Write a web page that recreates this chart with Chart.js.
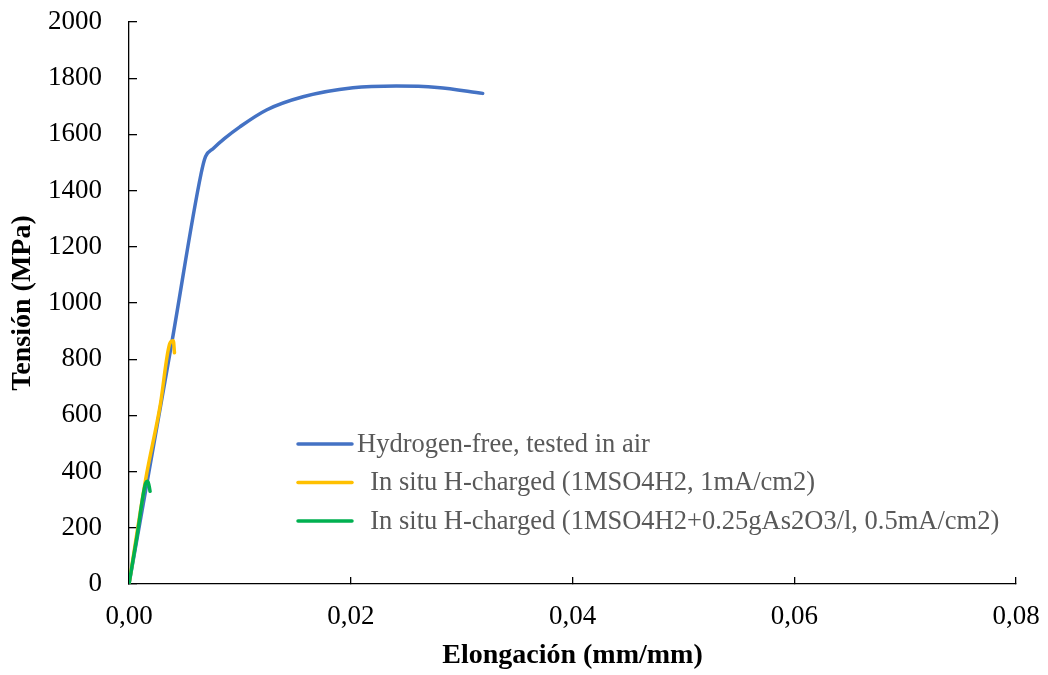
<!DOCTYPE html>
<html>
<head>
<meta charset="utf-8">
<script src="https://cdn.jsdelivr.net/npm/chart.js@4/dist/chart.umd.min.js"></script>
<style>
  html, body { margin: 0; padding: 0; background: #fff; }
  #wrap { width: 1048px; height: 675px; }
</style>
</head>
<body>
<div id="wrap"><canvas id="grafico"></canvas></div>
<script>
// curva sin hidrogeno
const airStrain = [0, 0.0039, 0.0065, 0.0069, 0.0076, 0.0086, 0.0100, 0.0124, 0.0157, 0.0202, 0.0241, 0.0278, 0.0319];
const airStress = [0, 868, 1460, 1521, 1550, 1585, 1627, 1687, 1734, 1766, 1772, 1767, 1746];

// carga in situ 1M SO4H2, 1 mA/cm2
const h1Strain = [0, 0.0015, 0.0028, 0.0037, 0.0040, 0.0041];
const h1Stress = [0, 372, 632, 858, 866, 823];

// carga in situ con As2O3, 0.5 mA/cm2
const h2Strain = [0, 0.0007, 0.0015, 0.0017, 0.0019];
const h2Stress = [0, 165, 358, 366, 330];

const seriesLabels = [
    'Hydrogen-free, tested in air',
    '  In situ H-charged (1MSO4H2, 1mA/cm2)',
    '  In situ H-charged (1MSO4H2+0.25gAs2O3/l, 0.5mA/cm2)'
];
const seriesColors = ['#4472C4', '#FFC000', '#00B050'];

const xTicks = [0, 0.02, 0.04, 0.06, 0.08];
const yTicks = [0, 200, 400, 600, 800, 1000, 1200, 1400, 1600, 1800, 2000];

const FONT = "'Liberation Serif', 'Times New Roman', serif";

const toPoints = (xs, ys) => xs.map((x, i) => ({ x: x, y: ys[i] }));

const datasets = [
    { label: seriesLabels[0], data: toPoints(airStrain, airStress), borderColor: seriesColors[0], order: 3 },
    { label: seriesLabels[1], data: toPoints(h1Strain, h1Stress), borderColor: seriesColors[1], order: 2 },
    { label: seriesLabels[2], data: toPoints(h2Strain, h2Stress), borderColor: seriesColors[2], order: 1 }
].map(d => Object.assign(d, {
    showLine: true,
    pointRadius: 0,
    borderWidth: 3.5,
    borderCapStyle: 'round',
    borderJoinStyle: 'round',
    cubicInterpolationMode: 'monotone',
    fill: false
}));

// leyenda dentro del area del grafico, como en Excel
const leyendaInterna = {
    id: 'leyendaInterna',
    afterDraw(chart) {
        const ctx = chart.ctx;
        const area = chart.chartArea;
        const x0 = area.left + 169;
        const y0 = area.top + 422;
        const rowGap = 38.5;
        ctx.save();
        ctx.font = "26.5px " + FONT;
        ctx.textBaseline = 'middle';
        ctx.textAlign = 'left';
        chart.data.datasets.forEach((ds, i) => {
            const y = y0 + i * rowGap;
            ctx.strokeStyle = ds.borderColor;
            ctx.lineWidth = 3.5;
            ctx.lineCap = 'round';
            ctx.beginPath();
            ctx.moveTo(x0, y);
            ctx.lineTo(x0 + 54, y);
            ctx.stroke();
            ctx.fillStyle = '#595959';
            ctx.fillText(ds.label, x0 + 59, y + 1);
        });
        ctx.restore();
    }
};

// quitar el relleno automatico que los ejes piden para sus etiquetas
const sinRelleno = (scale) => {
    scale.paddingTop = 0;
    scale.paddingBottom = 0;
    scale.paddingLeft = 0;
    scale.paddingRight = 0;
};

const chartConfig = {
    type: 'scatter',
    data: { datasets: datasets },
    options: {
        responsive: true,
        maintainAspectRatio: false,
        animation: false,
        layout: { padding: { top: 22, right: 32, bottom: 0, left: 0 } },
        plugins: {
            legend: { display: false },
            tooltip: { enabled: false }
        },
        scales: {
            x: {
                type: 'linear',
                min: 0,
                max: 0.08,
                afterBuildTicks: (scale) => { scale.ticks = xTicks.map(v => ({ value: v })); },
                afterFit: (scale) => { scale.height = 91; sinRelleno(scale); },
                border: { display: true, color: '#000', width: 1.3 },
                grid: { drawOnChartArea: false, drawTicks: true, tickLength: -7, color: '#000', lineWidth: 1.3 },
                ticks: {
                    padding: 24,
                    color: '#000',
                    font: { family: FONT, size: 27 },
                    maxRotation: 0,
                    callback: (v) => v.toFixed(2).replace('.', ',')
                },
                title: {
                    display: true,
                    text: 'Elongación (mm/mm)',
                    color: '#000',
                    font: { family: FONT, size: 28, weight: 'bold' },
                    padding: { top: 0, bottom: 2 }
                }
            },
            y: {
                type: 'linear',
                min: 0,
                max: 2000,
                afterBuildTicks: (scale) => { scale.ticks = yTicks.map(v => ({ value: v })); },
                afterFit: (scale) => { scale.width = 129; sinRelleno(scale); },
                border: { display: true, color: '#000', width: 1.3 },
                grid: { drawOnChartArea: false, drawTicks: true, tickLength: -8, color: '#000', lineWidth: 1.3 },
                ticks: {
                    padding: 35,
                    color: '#000',
                    font: { family: FONT, size: 27 },
                    callback: (v) => String(v)
                },
                title: {
                    display: true,
                    text: 'Tensión (MPa)',
                    color: '#000',
                    font: { family: FONT, size: 28, weight: 'bold' },
                    padding: { top: 6, bottom: 0 }
                }
            }
        }
    },
    plugins: [leyendaInterna]
};

new Chart(document.getElementById('grafico'), chartConfig);
</script>
</body>
</html>
